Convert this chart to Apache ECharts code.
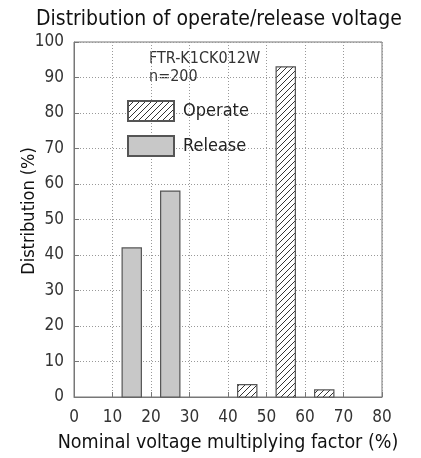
<!DOCTYPE html>
<html><head><meta charset="utf-8">
<script src="https://cdn.jsdelivr.net/npm/echarts@6/dist/echarts.min.js"></script>
<style>html,body{margin:0;padding:0;background:#fff}#c{width:421px;height:458px}</style>
</head><body><div id="c"></div>
<script>
const titleText = 'Distribution of operate/release voltage';
const xName = 'Nominal voltage multiplying factor (%)';
const yName = 'Distribution (%)';
const xTicks = [0,10,20,30,40,50,60,70,80];
const yTicks = [0,10,20,30,40,50,60,70,80,90,100];
const releaseX = [15, 25];
const releaseV = [42, 58];
const operateX = [45, 55, 65];
const operateV = [3.5, 93, 2];
const binWidth = 5;
const note1 = 'FTR-K1CK012W';
const note2 = 'n=200';

const FONT = '"Liberation Sans Narrow","DejaVu Sans Condensed","Roboto",sans-serif';

function hatch(){
  const s = 6, c = document.createElement('canvas');
  c.width = s; c.height = s;
  const g = c.getContext('2d');
  g.fillStyle = '#fff'; g.fillRect(0,0,s,s);
  g.strokeStyle = '#333'; g.lineWidth = 1;
  g.beginPath();
  g.moveTo(0,s); g.lineTo(s,0);
  g.moveTo(-1,1); g.lineTo(1,-1);
  g.moveTo(s-1,s+1); g.lineTo(s+1,s-1);
  g.stroke();
  return {image:c, repeat:'repeat'};
}
const hatchFill = hatch();

function renderBar(fill){
  return function(params, api){
    const x = api.value(0), v = api.value(1);
    const p1 = api.coord([x - binWidth/2, v]);
    const p2 = api.coord([x + binWidth/2, 0]);
    return {type:'rect', shape:{x:p1[0], y:p1[1], width:p2[0]-p1[0], height:p2[1]-p1[1]},
      style:{fill:fill, stroke:'#555', lineWidth:1.2}};
  };
}

const chart = echarts.init(document.getElementById('c'));
chart.setOption({
  animation:false,
  title:{text:titleText, left:36, top:9, padding:0, textStyle:{fontFamily:FONT, fontSize:21, fontWeight:'normal', color:'#111'}},
  grid:{left:74, right:39, top:42, bottom:56, show:true, borderColor:'#777', borderWidth:1},
  legend:{orient:'vertical', left:127, top:100, padding:0, itemWidth:46, itemHeight:20, itemGap:13,
    icon:'rect', textStyle:{fontFamily:FONT, fontSize:18, color:'#222', padding:[0,0,0,4]},
    data:['Operate','Release']},
  xAxis:{type:'value', min:0, max:80, interval:10,
    name:xName, nameLocation:'middle', nameGap:36,
    nameTextStyle:{fontFamily:FONT, fontSize:19.5, color:'#111'},
    axisLine:{lineStyle:{color:'#777'}},
    axisTick:{inside:true, length:5, lineStyle:{color:'#777'}},
    axisLabel:{fontFamily:FONT, fontSize:17, color:'#333', margin:12,
      formatter:v=>xTicks.includes(v)?String(v):''},
    splitLine:{show:true, lineStyle:{type:[1,2], color:'#999'}}},
  yAxis:{type:'value', min:0, max:100, interval:10,
    axisLine:{show:true, lineStyle:{color:'#777'}},
    axisTick:{show:true, inside:true, length:5, lineStyle:{color:'#777'}},
    axisLabel:{fontFamily:FONT, fontSize:17, color:'#333', margin:10,
      formatter:v=>yTicks.includes(v)?String(v):''},
    splitLine:{show:true, lineStyle:{type:[1,2], color:'#999'}}},
  graphic:[
    {type:'text', left:149, top:51, style:{text:note1, font:'16px '+FONT, fill:'#333'}},
    {type:'text', left:149, top:69, style:{text:note2, font:'16px '+FONT, fill:'#333'}},
    {type:'text', x:29, y:211, rotation:Math.PI/2, style:{text:yName, font:'18px '+FONT, fill:'#111', align:'center', verticalAlign:'middle'}}
  ],
  series:[
    {name:'Operate', type:'custom', renderItem:renderBar(hatchFill),
      itemStyle:{color:hatchFill, borderColor:'#555', borderWidth:1.2},
      data:operateX.map((x,i)=>[x, operateV[i]])},
    {name:'Release', type:'custom', renderItem:renderBar('#c8c8c8'),
      itemStyle:{color:'#c8c8c8', borderColor:'#555', borderWidth:1.2},
      data:releaseX.map((x,i)=>[x, releaseV[i]])}
  ]
});
</script></body></html>
